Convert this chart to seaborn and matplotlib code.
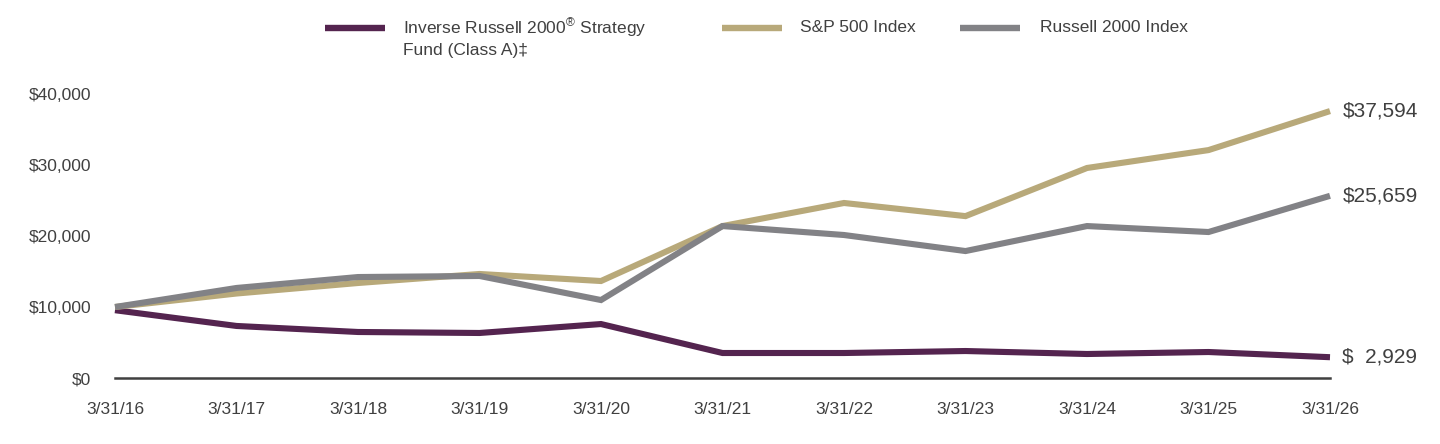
import matplotlib
matplotlib.use("Agg")
import matplotlib.pyplot as plt
from matplotlib.lines import Line2D
import seaborn as sns
import pandas as pd

# data
dates = ["3/31/16", "3/31/17", "3/31/18", "3/31/19", "3/31/20", "3/31/21",
         "3/31/22", "3/31/23", "3/31/24", "3/31/25", "3/31/26"]
fund = [9550, 7330, 6480, 6340, 7600, 3520, 3520, 3800, 3380, 3660, 2929]
sp500 = [10000, 11900, 13380, 14650, 13660, 21400, 24650, 22800, 29580, 32100, 37594]
russell = [10000, 12680, 14220, 14370, 10980, 21400, 20140, 17880, 21400, 20560, 25659]

names = ["Inverse Russell 2000 Strategy Fund (Class A)", "S&P 500 Index", "Russell 2000 Index"]
legend_lines = [["Inverse Russell 2000$^{\\circledR}$ Strategy", "Fund (Class A)\u2021"],
                ["S&P 500 Index"], ["Russell 2000 Index"]]
colors = ["#54244f", "#b8a97a", "#828286"]
end_labels = ["$  2,929", "$37,594", "$25,659"]

rows = []
for name, vals in zip(names, [fund, sp500, russell]):
    for i, v in enumerate(vals):
        rows.append({"idx": i, "value": v, "series": name})
df = pd.DataFrame(rows)

sns.set_style("white")
plt.rcParams["font.family"] = ["Liberation Sans", "DejaVu Sans"]
plt.rcParams["mathtext.fontset"] = "custom"
plt.rcParams["mathtext.rm"] = "Liberation Sans"
txt = "#404040"

fig = plt.figure(figsize=(14.4, 4.44), dpi=100)
ax = fig.add_axes([115 / 1440, 66 / 444, 1215 / 1440, 284 / 444])

sns.lineplot(data=df, x="idx", y="value", hue="series", hue_order=names,
             palette=colors, linewidth=4.4, legend=False, ax=ax)
for ln in ax.lines:
    ln.set_solid_capstyle("butt")
    ln.set_solid_joinstyle("miter")
    ln.set_clip_on(False)

ax.set_xlim(0, len(dates) - 1)
ax.set_ylim(0, 40000)
ax.set_xticks(range(len(dates)))
ax.set_xticklabels(dates)
ax.set_yticks([0, 10000, 20000, 30000, 40000])
ax.set_yticklabels(["$0", "$10,000", "$20,000", "$30,000", "$40,000"])
ax.tick_params(axis="both", length=0, labelsize=12.5, colors=txt, pad=17)
ax.set_xlabel("")
ax.set_ylabel("")
for s in ["left", "right", "top"]:
    ax.spines[s].set_visible(False)
ax.spines["bottom"].set_color("#404040")
ax.spines["bottom"].set_linewidth(1.8)

# end-of-line value labels
for vals, lab in zip([fund, sp500, russell], end_labels):
    ax.annotate(lab, xy=(len(vals) - 1, vals[-1]), xytext=(9, 0),
                textcoords="offset points", va="center", ha="left",
                fontsize=15, color=txt, annotation_clip=False)

# legend across the top
leg_pos = [(325, 403), (722, 800), (960, 1040)]
ly = 1 - 28 / 444
for (hx, tx), parts, c in zip(leg_pos, legend_lines, colors):
    fig.add_artist(Line2D([hx / 1440, (hx + 60) / 1440], [ly, ly], color=c,
                          linewidth=4.6, solid_capstyle="butt"))
    for k, part in enumerate(parts):
        fig.text(tx / 1440, ly - k * 22 / 444, part, ha="left", va="center",
                 fontsize=12.5, color=txt)

fig.savefig("out.png", dpi=100, facecolor="white")
